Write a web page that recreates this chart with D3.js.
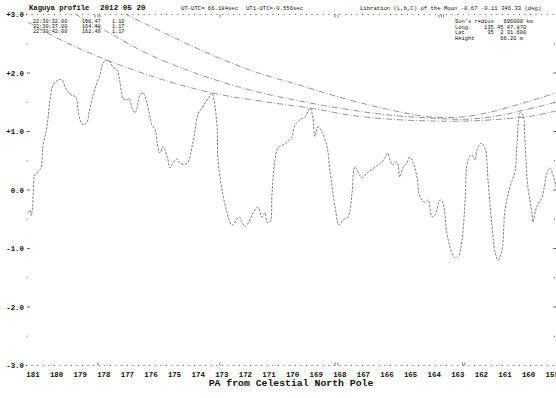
<!DOCTYPE html>
<html><head><meta charset="utf-8">
<script src="https://cdn.jsdelivr.net/npm/d3@7"></script>
<style>
html,body{margin:0;padding:0;background:#fff;}
svg{display:block;}
text{font-family:"Liberation Mono","DejaVu Sans Mono",monospace;fill:#111;}
</style></head>
<body>
<script>
// ---- data ----
const xTickLabels = [181,180,179,178,177,176,175,174,173,172,171,170,169,168,167,166,165,164,163,162,161,160,159];
const yTickValues = [3,2,1,0,-1,-2,-3];
const yTickLabels = ["+3.0","+2.0","+1.0","0.0","-1.0","-2.0","-3.0"];

const profilePA = [181.21,181.13,181.08,181.02,180.99,180.92,180.79,180.66,180.58,180.41,180.28,180.15,179.94,179.77,179.64,179.52,179.35,179.18,179.09,179.01,178.88,178.71,178.63,178.46,178.29,178.16,178.03,177.86,177.74,177.61,177.44,177.31,177.19,177.02,176.93,176.81,176.68,176.59,176.47,176.34,176.17,175.96,175.83,175.70,175.62,175.49,175.31,175.19,175.07,174.90,174.77,174.56,174.43,174.26,174.14,174.01,173.84,173.71,173.54,173.42,173.33,173.20,173.16,172.99,172.78,172.57,172.44,172.27,172.14,172.02,171.81,171.68,171.47,171.30,171.17,171.08,170.96,170.87,170.75,170.62,170.41,170.24,170.03,169.90,169.69,169.47,169.26,169.14,169.05,168.92,168.75,168.54,168.42,168.20,168.03,167.86,167.65,167.48,167.36,167.06,166.85,166.51,166.21,166.08,165.96,165.87,165.75,165.58,165.45,165.32,165.15,165.07,164.90,164.73,164.60,164.39,164.26,164.09,163.97,163.75,163.63,163.46,163.25,163.12,162.99,162.82,162.69,162.57,162.40,162.27,162.19,162.02,161.85,161.72,161.55,161.42,161.30,161.13,161.00,160.79,160.58,160.49,160.36,160.24,160.15,160.03,159.86,159.82,159.66,159.43,159.22,159.10,158.97,158.84];
const profileH = [-0.39,-0.34,-0.44,-0.30,-0.05,0.26,0.31,0.39,0.74,1.08,1.54,1.79,1.88,1.88,1.76,1.68,1.62,1.59,1.37,1.20,1.11,1.16,1.32,1.62,1.83,1.97,2.17,2.22,2.19,2.10,2.05,1.83,1.57,1.54,1.57,1.42,1.32,1.40,1.62,1.66,1.49,1.11,1.03,0.72,0.63,0.74,0.56,0.38,0.46,0.53,0.46,0.44,0.48,0.74,1.01,1.30,1.40,1.49,1.59,1.66,1.54,1.08,0.51,0.00,-0.39,-0.60,-0.55,-0.46,-0.55,-0.63,-0.51,-0.39,-0.29,-0.46,-0.39,-0.55,-0.55,-0.05,0.51,0.72,0.77,0.82,0.91,1.11,1.20,1.25,1.40,1.23,0.91,1.08,0.99,0.74,0.34,-0.29,-0.60,-0.51,-0.46,-0.05,0.39,0.21,0.29,0.39,0.48,0.56,0.63,0.51,0.43,0.48,0.22,0.39,0.46,0.56,0.48,0.22,-0.12,-0.21,-0.17,-0.46,-0.43,-0.17,-0.22,-0.74,-1.08,-1.16,-1.15,-0.85,-0.17,0.51,0.60,0.51,0.68,0.80,0.72,0.17,-0.63,-1.06,-1.20,-1.03,-0.34,0.05,0.31,0.80,1.32,1.28,0.80,0.05,-0.39,-0.55,-0.29,-0.12,0.29,0.38,0.26,0.05];

// solar limb curves at the three times
const limbPA1 = [177.10,175.41,173.71,171.81,169.69,167.78,165.87,164.18,162.78,161.64,160.36,158.84];
const limbH1  = [3.01,2.68,2.36,2.05,1.79,1.56,1.37,1.25,1.25,1.33,1.47,1.66];
const limbPA2 = [179.22,177.74,176.04,173.92,171.81,169.69,167.57,165.87,164.18,162.69,161.42,160.15,158.84];
const limbH2  = [3.01,2.68,2.31,1.97,1.71,1.52,1.37,1.28,1.23,1.21,1.26,1.37,1.50];
const limbPA3 = [181.21,179.64,177.86,175.62,173.42,171.38,169.26,167.57,165.87,164.18,162.48,161.21,159.94,158.84];
const limbH3  = [2.87,2.53,2.22,1.90,1.66,1.52,1.40,1.28,1.21,1.18,1.18,1.21,1.26,1.35];

const legendTimes = ["22:30:32.00","22:30:37.00","22:30:42.00"];
const legendPA    = ["166.47","164.48","162.49"];
const legendH     = ["1.10","1.17","1.17"];
const siteLines = ["Sun's redius   696000 km","Long.    135 45 47.870","Lat       35  2 31.600","Height        66.20 m"];
const topMarkPA = [178.37,178.25,178.16,173.08,168.20,168.08,163.80,163.70,163.60];
const botMarkPA = [178.25,173.08,168.20,168.08,162.80,162.70];

// ---- drawing ----
const W = 556, H = 398;
const svg = d3.select("body").append("svg").attr("width", W).attr("height", H);
const x = d3.scaleLinear().domain([181, 159]).range([33, 33 + 22 * 23.6]);
const y = d3.scaleLinear().domain([-3, 3]).range([365.5, 14.5]);

svg.append("defs").append("clipPath").attr("id","clip")
  .append("rect").attr("x",26).attr("y",y(3)).attr("width",W-26).attr("height",y(-3)-y(3));

// header
svg.append("text").attr("x",29).attr("y",10).attr("font-size",7.2).attr("font-weight","bold").text("Kaguya profile");
svg.append("text").attr("x",100).attr("y",10).attr("font-size",7.6).attr("font-weight","bold").text("2012 05 20");
svg.append("text").attr("x",181).attr("y",9.5).attr("font-size",5.6).text("UT-UTC= 66.184sec");
svg.append("text").attr("x",246).attr("y",9.5).attr("font-size",5.6).text("UT1-UTC=-0.556sec");
svg.append("text").attr("x",360).attr("y",9.5).attr("font-size",5.6).text("Libration (L,b,C) of the Moon -0.67 -0.11 346.33 (deg)");

// dotted frame lines at +3 and -3
[3,-3].forEach(v => {
  svg.append("line").attr("x1",26).attr("x2",W).attr("y1",y(v)).attr("y2",y(v))
    .attr("stroke","#333").attr("stroke-width",0.8).attr("stroke-dasharray","1,4.6");
});
svg.selectAll(".tm").data(topMarkPA).join("line")
  .attr("x1",d=>x(d)).attr("x2",d=>x(d)).attr("y1",y(3)).attr("y2",y(3)+3)
  .attr("stroke","#444").attr("stroke-width",0.7);
svg.selectAll(".bm").data(botMarkPA).join("line")
  .attr("x1",d=>x(d)).attr("x2",d=>x(d)).attr("y1",y(-3)-3).attr("y2",y(-3))
  .attr("stroke","#444").attr("stroke-width",0.7);

// y axis labels and ticks
yTickValues.forEach((v,i) => {
  svg.append("text").attr("x",24).attr("y",y(v)+2.6).attr("text-anchor","end")
    .attr("font-size",7.4).attr("font-weight","bold").text(yTickLabels[i]);
  if (Math.abs(v) < 3) {
    svg.append("line").attr("x1",27).attr("x2",30).attr("y1",y(v)).attr("y2",y(v)).attr("stroke","#444").attr("stroke-width",0.8);
    svg.append("line").attr("x1",W-3).attr("x2",W).attr("y1",y(v)).attr("y2",y(v)).attr("stroke","#444").attr("stroke-width",0.8);
  }
});
[2.5,1.5,0.5,-0.5,-1.5,-2.5].forEach(v => {
  svg.append("rect").attr("x",26.5).attr("y",y(v)-0.5).attr("width",1).attr("height",1).attr("fill","#555");
  svg.append("rect").attr("x",W-2).attr("y",y(v)-0.5).attr("width",1).attr("height",1).attr("fill","#555");
});

// x tick labels
svg.selectAll(".xl").data(xTickLabels).join("text")
  .attr("x",d=>x(d)).attr("y",377).attr("text-anchor","middle")
  .attr("font-size",7.4).attr("font-weight","bold").text(d=>d);
svg.append("text").attr("x",291).attr("y",385.5).attr("text-anchor","middle")
  .attr("font-size",9.8).attr("font-weight","bold").text("PA from Celestial North Pole");

// legends
legendTimes.forEach((t,i) => {
  const yy = 23 + i*4.8;
  svg.append("text").attr("x",33).attr("y",yy).attr("font-size",5.2).text(t);
  svg.append("text").attr("x",82).attr("y",yy).attr("font-size",5.2).text(legendPA[i]);
  svg.append("text").attr("x",112).attr("y",yy).attr("font-size",5.2).text(legendH[i]);
});
siteLines.forEach((t,i) => {
  svg.append("text").attr("x",455).attr("y",23 + i*5.5).attr("font-size",5.4)
    .attr("xml:space","preserve").style("white-space","pre").text(t);
});

const g = svg.append("g").attr("clip-path","url(#clip)");
const line = d3.line().x(d=>x(d[0])).y(d=>y(d[1])).curve(d3.curveCatmullRom.alpha(0.5));

[[limbPA1,limbH1],[limbPA2,limbH2],[limbPA3,limbH3]].forEach(([pa,h]) => {
  g.append("path").datum(pa.map((p,i)=>[p,h[i]])).attr("d",line)
    .attr("fill","none").attr("stroke","#666").attr("stroke-width",0.7)
    .attr("stroke-dasharray","6,2,1,2");
});

g.append("path").datum(profilePA.map((p,i)=>[p,profileH[i]])).attr("d",line)
  .attr("fill","none").attr("stroke","#555").attr("stroke-width",0.75)
  .attr("stroke-dasharray","2.5,1.3");
</script>
</body></html>
